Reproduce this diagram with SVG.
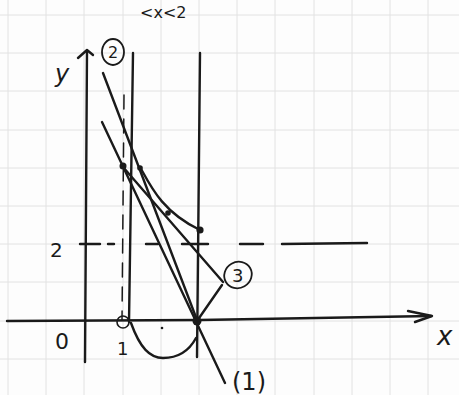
<svg xmlns="http://www.w3.org/2000/svg" width="459" height="395" viewBox="0 0 459 395">
<style>
.grid line{stroke:#e2e2e2;stroke-width:1}
.ink{fill:none;stroke:#1a1a1a;stroke-width:2.4;stroke-linecap:round;stroke-linejoin:round}
.thin{fill:none;stroke:#1a1a1a;stroke-width:1.5;stroke-linecap:round}
.dot{fill:#1a1a1a}
text{font-family:"DejaVu Sans","Liberation Sans",sans-serif;fill:#1a1a1a}
.it{font-style:italic}
</style>
<rect width="459" height="395" fill="#fdfdfd"/>
<g class="grid">
<line x1="8" y1="0" x2="8" y2="395"/><line x1="46" y1="0" x2="46" y2="395"/><line x1="84" y1="0" x2="84" y2="395"/><line x1="123" y1="0" x2="123" y2="395"/><line x1="161" y1="0" x2="161" y2="395"/><line x1="199" y1="0" x2="199" y2="395"/><line x1="237" y1="0" x2="237" y2="395"/><line x1="275" y1="0" x2="275" y2="395"/><line x1="314" y1="0" x2="314" y2="395"/><line x1="352" y1="0" x2="352" y2="395"/><line x1="390" y1="0" x2="390" y2="395"/><line x1="428" y1="0" x2="428" y2="395"/>
<line x1="0" y1="15" x2="459" y2="15"/><line x1="0" y1="53" x2="459" y2="53"/><line x1="0" y1="91" x2="459" y2="91"/><line x1="0" y1="130" x2="459" y2="130"/><line x1="0" y1="168" x2="459" y2="168"/><line x1="0" y1="206" x2="459" y2="206"/><line x1="0" y1="244" x2="459" y2="244"/><line x1="0" y1="282" x2="459" y2="282"/><line x1="0" y1="321" x2="459" y2="321"/><line x1="0" y1="359" x2="459" y2="359"/>
</g>
<text x="140" y="18" font-size="16">&lt;x&lt;2</text>
<g id="axes">
<path class="ink" d="M7,321 L200,320 L431,316"/>
<path class="ink" d="M408,311 L432,316 L415,322"/>
<path class="ink" d="M85,362 L87,51"/>
<path class="ink" d="M78,58 L87,50 L93,55"/>
</g>
<g id="verticals">
<path class="ink" d="M133,53 L129,322"/>
<path class="ink" d="M200,53 L197,357"/>
<path class="thin" d="M124,95 L122,320" stroke-dasharray="14 10"/>
</g>
<g id="dashed-y2">
<path class="ink" d="M80,244 L100,244 M108,244 L114,244 M146,244 L158,244 M182,244 L208,244 M240,244 L263,244 M282,244 L367,243"/>
</g>
<g id="parabola">
<path class="ink" d="M131,323 C140,348 150,358 163,358 C178,358 189,351 196,338"/>
<circle class="dot" cx="162" cy="328" r="1.3"/>
</g>
<g id="lines">
<path class="ink" d="M102,122 L225,383"/>
<path class="ink" d="M103,73 L197,320"/>
<path class="ink" d="M123,167 L223,282"/>
<path class="ink" d="M197,321 L222,285"/>
<path class="ink" d="M140,167 C150,185 162,212 200,230"/>
</g>
<g id="points">
<circle class="dot" cx="123" cy="166" r="3.5"/>
<circle class="dot" cx="140" cy="168" r="2.8"/>
<circle class="dot" cx="168" cy="213" r="2.8"/>
<circle class="dot" cx="200" cy="230" r="3.6"/>
<circle class="dot" cx="197" cy="321" r="4.5"/>
<circle cx="123" cy="322" r="6" fill="none" stroke="#1a1a1a" stroke-width="1.6"/>
</g>
<g id="labels">
<text class="it" x="55" y="82" font-size="24">y</text>
<text class="it" x="437" y="345" font-size="26">x</text>
<text x="55" y="349" font-size="22">0</text>
<text x="117" y="355" font-size="18">1</text>
<text x="50" y="257" font-size="20">2</text>
<g id="label-2"><ellipse cx="113" cy="52" rx="11" ry="13" fill="none" stroke="#1a1a1a" stroke-width="1.8"/><text x="108" y="58" font-size="16">2</text></g>
<g id="label-3"><ellipse cx="238" cy="275" rx="14" ry="13" transform="rotate(-30 238 275)" fill="none" stroke="#1a1a1a" stroke-width="1.8"/><text x="232" y="282" font-size="18">3</text></g>
<text x="232" y="390" font-size="24">(1)</text>
</g>
</svg>
